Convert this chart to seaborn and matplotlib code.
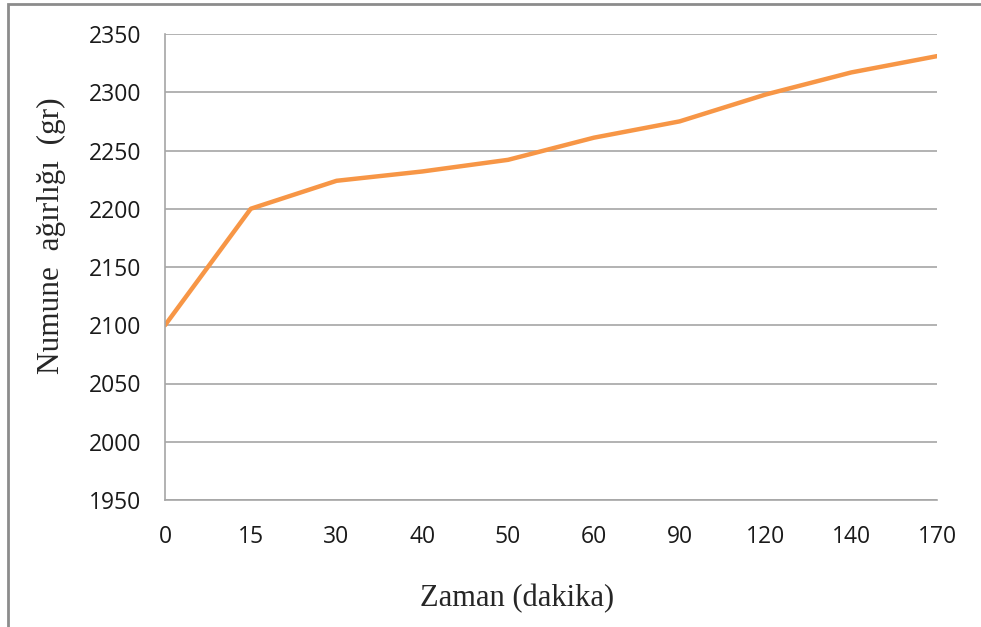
import numpy as np
import pandas as pd
import seaborn as sns
from matplotlib import pyplot as plt
from matplotlib.patches import Rectangle

# dane z wykresu
zaman = ["0", "15", "30", "40", "50", "60", "90", "120", "140", "170"]
agirlik = [2100, 2200, 2224, 2232, 2242, 2261, 2275, 2298, 2317, 2331]
y_ticks = [1950, 2000, 2050, 2100, 2150, 2200, 2250, 2300, 2350]

df = pd.DataFrame({"Zaman": zaman, "Agirlik": agirlik})

sns.set_style("white")
plt.rcParams['font.family'] = ['Open Sans', 'DejaVu Sans']

fig = plt.figure(figsize=(9.81, 6.27), dpi=100)
ax = fig.add_axes([165/981, 1-500/627, (937-165)/981, (500-34)/627])

sns.lineplot(data=df, x="Zaman", y="Agirlik", color="#F79646", linewidth=3.2, ax=ax, sort=False)

ax.set_xlim(0, len(zaman) - 1)
ax.set_ylim(1950, 2350)
ax.set_yticks(y_ticks)
ax.yaxis.grid(True, color="#A6A6A6", linewidth=1.2)
ax.set_axisbelow(True)
ax.tick_params(axis="both", length=0, labelsize=16.5, colors="#1a1a1a")
ax.tick_params(axis="y", pad=17)
ax.tick_params(axis="x", pad=18)
ax.set_xlabel("")
ax.set_ylabel("")

for s in ["top", "right"]:
    ax.spines[s].set_visible(False)
for s in ["left", "bottom"]:
    ax.spines[s].set_color("#A6A6A6")
    ax.spines[s].set_linewidth(1.2)

fig.text(51/981, 1-236/627, "Numune  ağırlığı  (gr)", rotation=90, ha="center", va="center",
         fontsize=22.5, family="Liberation Serif")
fig.text(517/981, 1-599/627, "Zaman (dakika)", ha="center", va="center",
         fontsize=22, family="Liberation Serif")

# ramka wykresu
fig.patches.append(Rectangle((8/981, -0.1), 1.2, 1-4/627+0.1, transform=fig.transFigure,
                             fill=False, edgecolor="#8C8C8C", linewidth=2))

fig.savefig("out.png", dpi=100)
